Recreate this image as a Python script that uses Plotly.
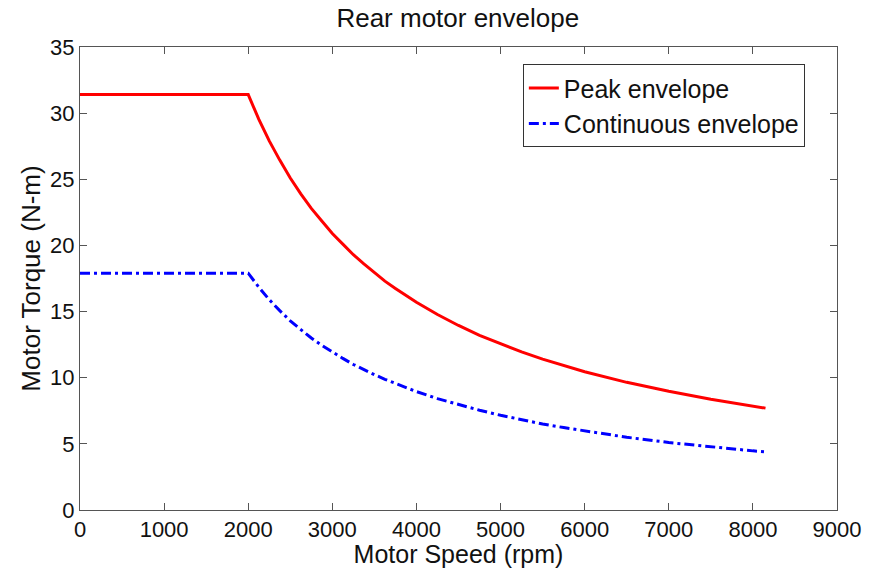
import plotly.graph_objects as go

speed = [0, 500, 1000, 1500, 2000, 2125, 2250, 2375, 2500, 2625, 2750, 2875, 3000,
         3125, 3250, 3375, 3500, 3625, 3750, 3875, 4000, 4250, 4500, 4750, 5000,
         5250, 5500, 5750, 6000, 6500, 7000, 7500, 8000, 8150]
peak = [31.4, 31.4, 31.4, 31.4, 31.4, 29.55, 27.9, 26.45, 25.1, 23.9, 22.8, 21.85, 20.9,
        20.1, 19.3, 18.6, 17.95, 17.3, 16.75, 16.2, 15.7, 14.78, 13.95, 13.2, 12.55,
        11.95, 11.4, 10.9, 10.45, 9.65, 8.97, 8.37, 7.85, 7.7]
cont = [17.9, 17.9, 17.9, 17.9, 17.9, 16.85, 15.9, 15.07, 14.3, 13.64, 13.0, 12.45, 11.93,
        11.46, 11.0, 10.6, 10.23, 9.88, 9.55, 9.24, 8.95, 8.42, 7.96, 7.54, 7.16,
        6.82, 6.5, 6.23, 5.97, 5.5, 5.1, 4.77, 4.47, 4.4]

font = "Liberation Sans, Arial, sans-serif"
fig = go.Figure()
fig.add_trace(go.Scatter(x=speed, y=peak, mode="lines", name="Peak envelope",
                         line=dict(color="#ff0000", width=3)))
fig.add_trace(go.Scatter(x=speed, y=cont, mode="lines", name="Continuous envelope",
                         line=dict(color="#0000ff", width=3, dash="10px,4px,3px,4px")))

axis_common = dict(showline=True, linecolor="#555555", linewidth=1, mirror="ticks",
                   ticks="inside", ticklen=7, tickcolor="#555555", showgrid=False,
                   zeroline=False, automargin=False,
                   tickfont=dict(family=font, size=22, color="#111"))
fig.update_layout(
    width=872, height=568,
    margin=dict(l=80, r=35, t=47, b=58),
    paper_bgcolor="white", plot_bgcolor="white",
    title=dict(text="Rear motor envelope", x=0.525, xanchor="center", y=0.968, yanchor="middle",
               font=dict(family=font, size=26, color="#111")),
    xaxis=dict(range=[0, 9000], dtick=1000,
               title=dict(text="Motor Speed (rpm)", font=dict(family=font, size=25, color="#111"), standoff=5),
               **axis_common),
    yaxis=dict(range=[0, 35], dtick=5,
               title=dict(text="Motor Torque (N-m)", font=dict(family=font, size=26, color="#111"), standoff=2),
               **axis_common),
    legend=dict(x=0.585, y=0.963, xanchor="left", yanchor="top", bgcolor="white",
                bordercolor="#333", borderwidth=1, font=dict(family=font, size=25, color="#111"),
                itemwidth=30, tracegroupgap=0),
    showlegend=True,
)
fig.write_html("out.html")
